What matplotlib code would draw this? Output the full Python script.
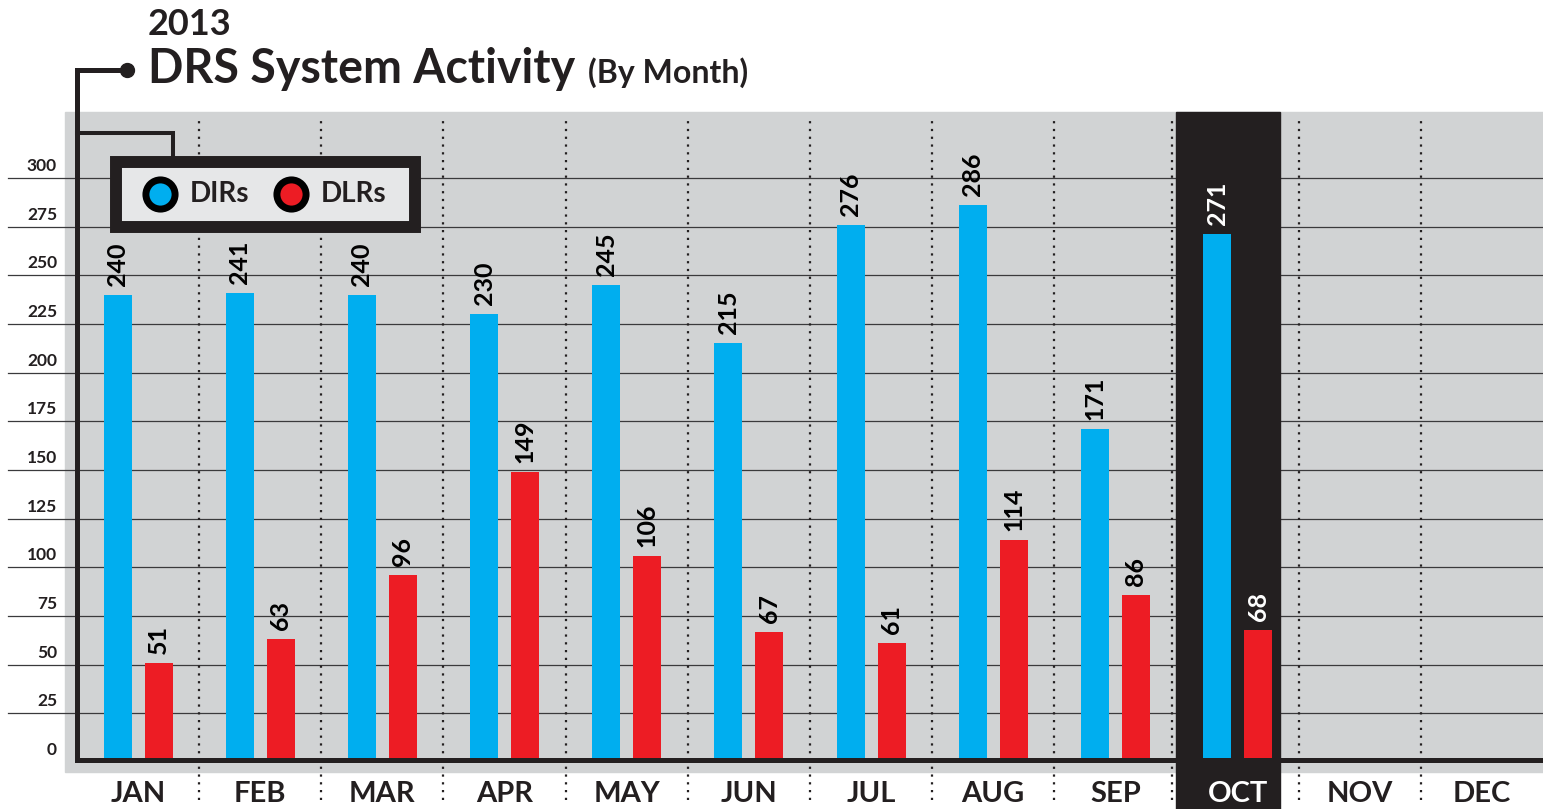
import numpy as np
import matplotlib
matplotlib.use("Agg")
import matplotlib.pyplot as plt
from matplotlib.patches import Rectangle
from matplotlib.lines import Line2D
from matplotlib import transforms

# data
months = ["JAN", "FEB", "MAR", "APR", "MAY", "JUN", "JUL", "AUG", "SEP", "OCT", "NOV", "DEC"]
dirs = [240, 241, 240, 230, 245, 215, 276, 286, 171, 271]
dlrs = [51, 63, 96, 149, 106, 67, 61, 114, 86, 68]
yticks = [0, 25, 50, 75, 100, 125, 150, 175, 200, 225, 250, 275, 300]
current = "OCT"

BLUE = "#00aeef"
RED = "#ed1c24"
DARK = "#231f20"
GRAY = "#d1d3d4"
LIGHT = "#e6e7e8"
WT = "bold"

plt.rcParams["font.family"] = ["Lato", "DejaVu Sans"]
plt.rcParams["font.weight"] = WT

W, H = 1543, 809
fig = plt.figure(figsize=(W / 100, H / 100), dpi=100)

def fx(px):
    return px / W

def fy(py):
    return 1 - py / H

# plot area in pixels
left, right, top, base = 77, 1543, 112, 762
ax = fig.add_axes([fx(left), fy(base), fx(right - left), (base - top) / H])
ax.set_facecolor("none")
ax.set_xlim(-0.5, len(months) - 0.5)
ax.set_ylim(0, (base - top) / (584 / 300))
for s in ax.spines.values():
    s.set_visible(False)

# gray background
fig.add_artist(Rectangle((fx(65), fy(772)), fx(W - 65), (772 - top) / H,
                         transform=fig.transFigure, color=GRAY, zorder=-5))

# gridlines
for v in yticks[1:]:
    ax.axhline(v, xmin=(8 - left) / (right - left), xmax=1, color="#3a3a3c",
               lw=0.9, zorder=0.5, clip_on=False)

x = np.arange(len(months))
ci = months.index(current)

# highlight column for current month
ax.axvspan(ci - 0.5, ci + 0.35, ymin=-(H - base) / (base - top), ymax=1,
           color=DARK, zorder=1, clip_on=False)

# dotted month separators
for k in range(len(months) - 1):
    sx = k + 0.5
    if k == ci - 1:
        sx -= 0.04
    ax.axvline(sx, ymin=-(800 - base) / (base - top), ymax=(base - 118) / (base - top),
               color=DARK, lw=1.6, linestyle=(0, (1, 2.5)), zorder=0.6, clip_on=False)

off, bw = 0.168, 0.229
n = len(dirs)
ax.bar(x[:n] - off, dirs, width=bw, color=BLUE, zorder=2)
ax.bar(x[:n] + off, dlrs, width=bw, color=RED, zorder=2)

for i in range(n):
    c = "white" if i == ci else "black"
    for xx, v in ((x[i] - off, dirs[i]), (x[i] + off, dlrs[i])):
        ax.annotate(str(v), (xx, v), xytext=(0, 9), textcoords="offset pixels",
                    rotation=90, ha="center", va="bottom", fontsize=18,
                    fontweight=WT, color=c, zorder=3)

# y tick labels sitting above the gridlines
trans = transforms.blended_transform_factory(fig.transFigure, ax.transData)
trans = transforms.offset_copy(trans, fig=fig, y=7, units="dots")
for v in yticks:
    ax.text(fx(57), v, str(v), transform=trans, ha="right", va="baseline",
            fontsize=12.5, fontweight=WT, color=DARK, clip_on=False)
ax.set_yticks([])

# month labels
ax.set_xticks(x)
ax.set_xticklabels(months, fontsize=21, fontweight=WT, color=DARK)
ax.tick_params(axis="x", length=0, pad=14)
ax.get_xticklabels()[ci].set_color("white")

# axis frame + title connector
fig.add_artist(Line2D([fx(127), fx(77), fx(77), fx(W)], [fy(70), fy(70), fy(760), fy(760)],
                      transform=fig.transFigure, color=DARK, lw=3.6,
                      solid_joinstyle="miter", zorder=4))
fig.add_artist(Line2D([fx(127)], [fy(70)], marker="o", ms=10, color=DARK,
                      transform=fig.transFigure, zorder=4))
fig.add_artist(Line2D([fx(77), fx(173), fx(173)], [fy(133), fy(133), fy(160)],
                      transform=fig.transFigure, color=DARK, lw=2.9,
                      solid_joinstyle="miter", zorder=4))

# titles
fig.text(fx(148), fy(35), "2013", fontsize=26, fontweight=WT, color=DARK, va="baseline")
fig.text(fx(148), fy(83), "DRS System Activity", fontsize=33.5, fontweight=WT,
         color=DARK, va="baseline")
fig.text(fx(588), fy(83), "(By Month)", fontsize=23, fontweight=WT, color=DARK,
         va="baseline")

# legend box
fig.add_artist(Rectangle((fx(116), fy(227)), fx(415 - 116), (227 - 162) / H,
                         transform=fig.transFigure, facecolor=LIGHT, edgecolor=DARK,
                         lw=8.6, joinstyle="miter", zorder=5))
for cx, col, lab in ((160, BLUE, "DIRs"), (291, RED, "DLRs")):
    fig.add_artist(Line2D([fx(cx)], [fy(194)], marker="o", ms=21, mew=5,
                          mfc=col, mec="black", transform=fig.transFigure, zorder=6))
    fig.text(fx(cx + 30), fy(194), lab, fontsize=20, fontweight=WT, color=DARK,
             va="center", zorder=6)

fig.savefig("out.png", dpi=100)
